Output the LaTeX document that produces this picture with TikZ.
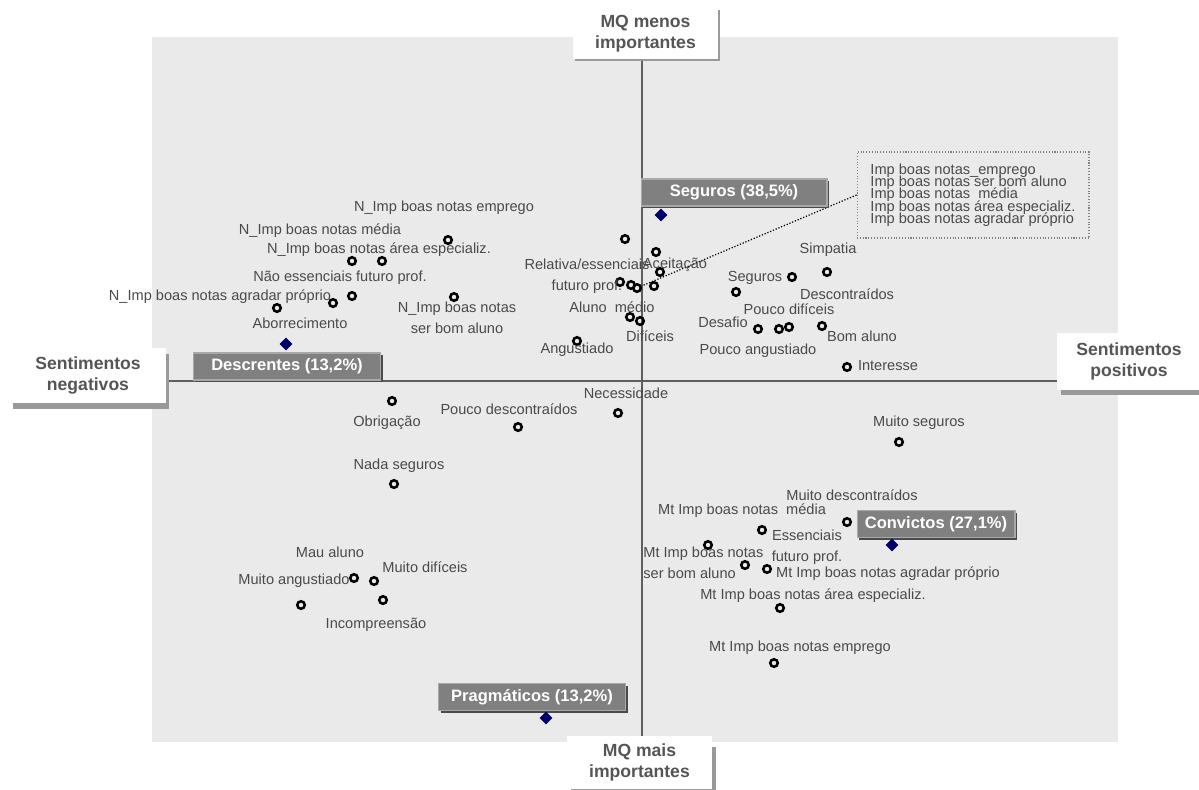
\documentclass[tikz,border=0pt]{standalone}
\usepackage{fontspec}
\setmainfont{Liberation Sans}
\usetikzlibrary{shapes.geometric,shadows}
\definecolor{plotbg}{HTML}{EAEAEA}
\definecolor{axisline}{HTML}{5F5F5F}
\definecolor{axistext}{HTML}{555555}
\definecolor{labtext}{HTML}{4A4A4A}
\definecolor{grpfill}{HTML}{808080}
\definecolor{grpedge}{HTML}{A8A8A8}
\definecolor{grpshadow}{HTML}{4A4A4A}
\definecolor{boxshadow}{HTML}{999999}
\definecolor{centroid}{HTML}{000066}
\newcommand\impfont{\fontsize{8.3}{7}\selectfont\lineskiplimit=-10pt\relax}
\tikzset{
  axisbox/.style={fill=white,text=axistext,font=\bfseries\fontsize{10}{12}\selectfont,align=center,inner sep=0pt},
  pt/.style={circle,draw=black,line width=1.45pt,minimum size=0.15cm,inner sep=0pt},
  cen/.style={diamond,fill=centroid,minimum size=0.26cm,inner sep=0pt},
  lab/.style={text=labtext,font=\fontsize{8.3}{12}\selectfont,align=center,inner sep=0pt},
  grp/.style={fill=grpfill,draw=grpedge,line width=0.6pt,text=white,font=\bfseries\fontsize{9.4}{11}\selectfont,
    minimum height=0.54cm,inner sep=0pt,drop shadow={shadow xshift=1.3pt,shadow yshift=-1.3pt,fill=grpshadow,opacity=1}}
}
\begin{document}
\begin{tikzpicture}[x=0.02cm,y=-0.02cm]
\useasboundingbox (0,0) rectangle (1199,789);
\fill[plotbg] (152,37) rectangle (1118,742);

\coordinate (ytop) at (642,59);
\coordinate (ybot) at (642,736);
\coordinate (xleft) at (167,381);
\coordinate (xright) at (1057,381);
\draw[axisline,line width=0.9pt] (ytop) -- (ybot);
\draw[axisline,line width=0.9pt] (xleft) -- (xright);

\begin{scope}[every node/.style={axisbox}]
  \node[minimum width=2.9cm,minimum height=1.02cm,drop shadow={shadow xshift=1.2pt,shadow yshift=-1.2pt,fill=boxshadow,opacity=1}] (mqtop) at (645.5,33.5) {MQ menos\\importantes};
  \node[minimum width=3.12cm,minimum height=1.1cm,drop shadow={shadow xshift=1.7pt,shadow yshift=-3.4pt,fill=boxshadow,opacity=1}] (neg) at (88,375.5) {Sentimentos\\negativos};
  \node[minimum width=2.9cm,minimum height=1.14cm,drop shadow={shadow xshift=2.8pt,shadow yshift=-3pt,fill=boxshadow,opacity=1}] (pos) at (1129,361.5) {Sentimentos\\positivos};
  \node[minimum width=2.9cm,minimum height=1.06cm,drop shadow={shadow xshift=2.2pt,shadow yshift=-6pt,fill=boxshadow,opacity=1}] (mqbot) at (639.5,762.5) {MQ mais\\importantes};
\end{scope}

\node[draw=gray,densely dotted,line width=0.6pt,fill=plotbg,minimum width=4.64cm,minimum height=1.72cm,
  text=labtext,font=\impfont,align=left,inner sep=0pt] (impbox) at (973,195)
  {Imp boas notas\_emprego\\Imp boas notas ser bom aluno\\Imp boas notas \ média\\Imp boas notas área especializ.\\Imp boas notas agradar próprio};

\node[pt] (n1) at (448,240) {};
\node[pt] (n2) at (352,261) {};
\node[pt] (n3) at (382,261) {};
\node[pt] (n4) at (352,296) {};
\node[pt] (n5) at (333,303) {};
\node[pt] (n6) at (277,308) {};
\node[pt] (n7) at (454,297) {};
\node[pt] (c1) at (625,239) {};
\node[pt] (c2) at (656,252) {};
\node[pt] (c3) at (660,272) {};
\node[pt] (c4) at (620,282) {};
\node[pt] (c5) at (631,285) {};
\node[pt] (c6) at (637,288) {};
\node[pt] (c7) at (654,286) {};
\node[pt] (c8) at (630,317) {};
\node[pt] (c9) at (640,321) {};
\node[pt] (c10) at (577,341) {};
\node[pt] (r1) at (792,277) {};
\node[pt] (r2) at (827,272) {};
\node[pt] (r3) at (736,292) {};
\node[pt] (r4) at (758,329) {};
\node[pt] (r5) at (779,329) {};
\node[pt] (r6) at (789,327) {};
\node[pt] (r7) at (822,326) {};
\node[pt] (r8) at (847,367) {};
\node[pt] (l1) at (392,401) {};
\node[pt] (l2) at (518,427) {};
\node[pt] (l3) at (618,413) {};
\node[pt] (l4) at (394,484) {};
\node[pt] (l5) at (354,578) {};
\node[pt] (l6) at (374,581) {};
\node[pt] (l7) at (383,600) {};
\node[pt] (l8) at (301,605) {};
\node[pt] (m1) at (899,442) {};
\node[pt] (m2) at (847,522) {};
\node[pt] (m3) at (762,530) {};
\node[pt] (m4) at (708,545) {};
\node[pt] (m5) at (745,565) {};
\node[pt] (m6) at (767,569) {};
\node[pt] (m7) at (780,608) {};
\node[pt] (m8) at (774,663) {};

\draw[black,densely dotted,line width=0.7pt] (impbox.west) -- (c6);

\begin{scope}[every node/.style={lab}]
  \node (lbnemprego) at (444,208) {N\_Imp boas notas emprego};
  \node (lbnmedia) at (320,231) {N\_Imp boas notas média};
  \node (lbnarea) at (379,250) {N\_Imp boas notas área especializ.};
  \node (lbnaoess) at (340,278) {Não essenciais futuro prof.};
  \node (lbnagradar) at (220,297) {N\_Imp boas notas agradar próprio};
  \node (lbaborr) at (300,323) {Aborrecimento};
  \node (lbnbom) at (457,318) {N\_Imp boas notas\\ser bom aluno};
  \node (lbrelat) at (587,276) {Relativa/essenciais\\futuro prof.};
  \node (lbaceit) at (675,265) {Aceitação};
  \node (lbaluno) at (612,307) {Aluno \ médio};
  \node (lbdific) at (650,336) {Difíceis};
  \node (lbangust) at (577,350) {Angustiado};
  \node (lbseg) at (755,278) {Seguros};
  \node (lbsimp) at (828,250) {Simpatia};
  \node (lbdesc) at (847,294) {Descontraídos};
  \node (lbpdif) at (789,309) {Pouco difíceis};
  \node (lbdesaf) at (723,322) {Desafio};
  \node (lbbom) at (862,336) {Bom aluno};
  \node (lbpang) at (758,351) {Pouco angustiado};
  \node (lbinter) at (888,366) {Interesse};
  \node (lbobrig) at (387,423) {Obrigação};
  \node (lbpdesc) at (509,409) {Pouco descontraídos};
  \node (lbneces) at (626,393) {Necessidade};
  \node (lbnada) at (399,466) {Nada seguros};
  \node (lbmau) at (330,552) {Mau aluno};
  \node (lbmdif) at (425,567) {Muito difíceis};
  \node (lbmang) at (294,581) {Muito angustiado};
  \node (lbincomp) at (376,625) {Incompreensão};
  \node (lbmseg) at (919,423) {Muito seguros};
  \node (lbmdesc) at (852,495) {Muito descontraídos};
  \node (lbmtmedia) at (742,511) {Mt Imp boas notas \ média};
  \node (lbess) at (807,547.5) {Essenciais\\futuro prof.};
  \node[anchor=west,align=left] (lbmtbom) at (643,563) {Mt Imp boas notas\\ser bom aluno};
  \node (lbmtagr) at (888,574) {Mt Imp boas notas agradar próprio};
  \node (lbmtarea) at (813,596) {Mt Imp boas notas área especializ.};
  \node (lbmtemp) at (800,648) {Mt Imp boas notas emprego};
\end{scope}

\node[grp,minimum width=3.72cm] (gseg) at (734,192.5) {Seguros (38,5\%)};
\node[grp,minimum width=3.74cm] (gdes) at (287,366.5) {Descrentes (13,2\%)};
\node[grp,minimum width=3.16cm] (gcon) at (936,524) {Convictos (27,1\%)};
\node[grp,minimum width=3.74cm] (gpra) at (532,697) {Pragmáticos (13,2\%)};

\node[cen] (dseg) at (661,215) {};
\node[cen] (ddes) at (286,344) {};
\node[cen] (dcon) at (892,545) {};
\node[cen] (dpra) at (546,718) {};
\end{tikzpicture}
\end{document}
